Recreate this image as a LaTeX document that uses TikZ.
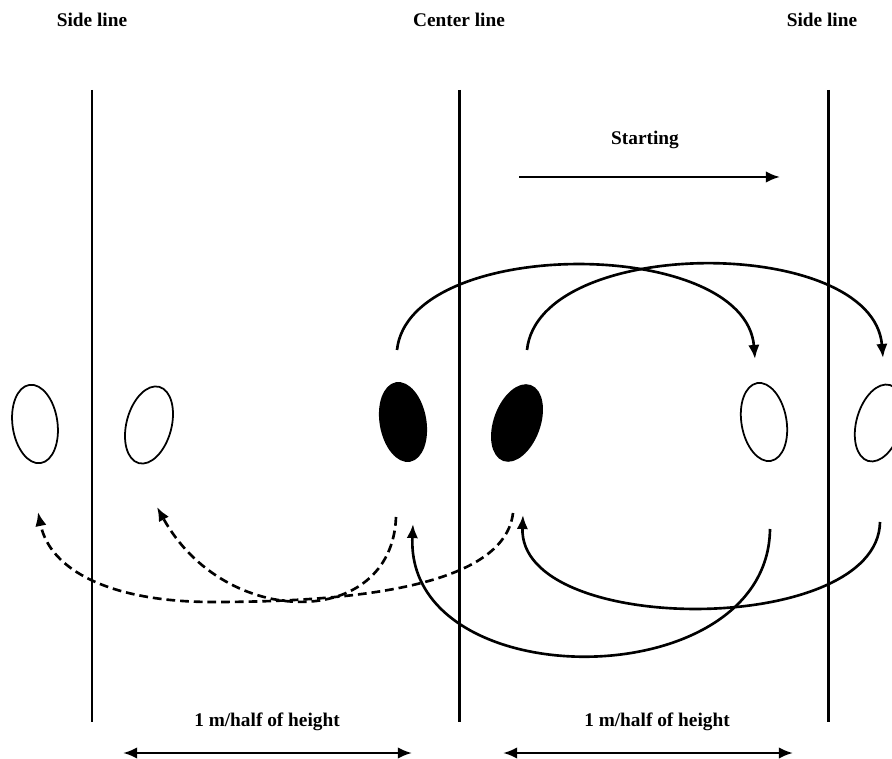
\documentclass[tikz,border=0pt]{standalone}
\usepackage{fontspec}
\setmainfont{Liberation Serif}
\usetikzlibrary{shapes.geometric,arrows.meta}
\tikzset{
  lbl/.style={font=\fontsize{11}{13}\selectfont\bfseries},
  sideline/.style={line width=1.7pt},
  openfoot/.style={draw,ellipse,line width=1pt,inner sep=0pt,minimum width=0.9cm,minimum height=1.58cm},
  fullfoot/.style={openfoot,fill=black},
  jump/.style={->,line width=1.5pt},
  dashjump/.style={jump,dash pattern=on 5pt off 2.8pt},
  dim/.style={line width=1.4pt}
}

\begin{document}
\begin{tikzpicture}[x=0.02cm,y=-0.02cm,>={Latex[length=8pt,width=6.5pt]}]
\useasboundingbox (0,0) rectangle (892,759);

 \node[lbl] (ls) at (92,20) {Side line};
 \node[lbl] (cs) at (459,20) {Center line};
 \node[lbl] (rs) at (822,20) {Side line};

 % the three lines on the floor
 \coordinate (l1) at (92,90);  \coordinate (l2) at (92,722);
 \coordinate (c1) at (459,90); \coordinate (c2) at (459,722);
 \coordinate (r1) at (828,90); \coordinate (r2) at (828,722);
 \draw[sideline] (l1) -- (l2);
 \draw[sideline] (c1) -- (c2);
 \draw[sideline] (r1) -- (r2);

 \node[lbl] (st) at (645,140) {Starting};
 \coordinate (st1) at (519,177);
 \coordinate (st2) at (780,177);
 \draw[dim,->] (st1) -- (st2);

 % feet
 \node[openfoot,rotate=8] (f1) at (35,424) {};
 \node[openfoot,rotate=-15] (f2) at (149,425) {};
 \node[fullfoot,rotate=10] (f3) at (403,422) {};
 \node[fullfoot,rotate=-20] (f4) at (517,423) {};
 \node[openfoot,rotate=10] (f5) at (764,422) {};
 \node[openfoot,rotate=-16] (f6) at (879,423) {};

 % jumps over the line
 \coordinate (a0) at (397,350); \coordinate (a1) at (755,359);
 \coordinate (b0) at (527,350); \coordinate (b1) at (883,358);
 \draw[jump] (a0) .. controls (409,236) and (745,236) .. (a1);
 \draw[jump] (b0) .. controls (539,235) and (873,235) .. (b1);

 % way back
 \coordinate (d0) at (770,529); \coordinate (d1) at (413,524);
 \coordinate (e0) at (880,522); \coordinate (e1) at (523,515);
 \draw[jump] (d0) .. controls (768,698) and (405,698) .. (d1);
 \draw[jump] (e0) .. controls (878,637) and (518,637) .. (e1);

 \coordinate (g0) at (396,517); \coordinate (g1) at (157,507);
 \coordinate (h0) at (513,513); \coordinate (hm) at (213,602); \coordinate (h1) at (38,512);
 \draw[dashjump] (g0) .. controls (392,630) and (225,630) .. (g1);
 \draw[dashjump] (h0) .. controls (505,580) and (380,602) .. (hm)
                      .. controls (110,602) and (50,570) .. (h1);

 % distances
 \node[lbl] (w1) at (267,722) {1 m/half of height};
 \node[lbl] (w2) at (657,722) {1 m/half of height};
 \coordinate (m1) at (123,753); \coordinate (m2) at (412,753);
 \coordinate (m3) at (503,753); \coordinate (m4) at (793,753);
 \draw[dim,<->] (m1) -- (m2);
 \draw[dim,<->] (m3) -- (m4);
\end{tikzpicture}
\end{document}
